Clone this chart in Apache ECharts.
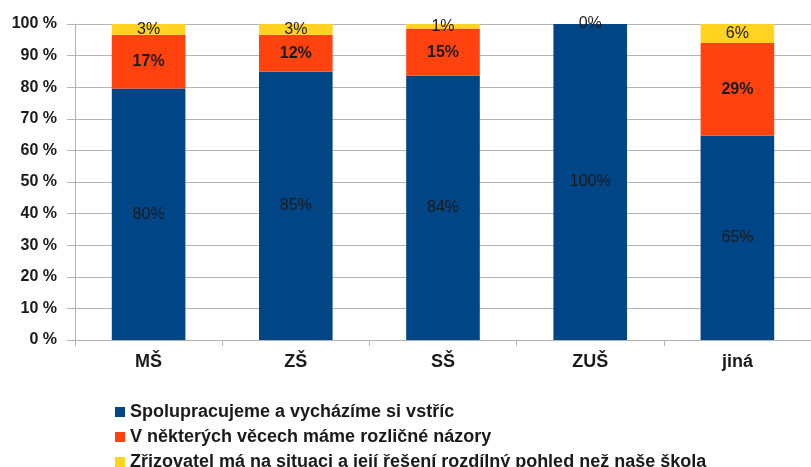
<!DOCTYPE html>
<html>
<head>
<meta charset="utf-8">
<script src="https://cdn.jsdelivr.net/npm/echarts@6/dist/echarts.min.js"></script>
<style>
  html, body { margin: 0; padding: 0; background: #fff; }
  #chart { width: 811px; height: 467px; }
</style>
</head>
<body>
<div id="chart"></div>
<script>
const categories = ["MŠ", "ZŠ", "SŠ", "ZUŠ", "jiná"];
const seriesNames = [
  "Spolupracujeme a vycházíme si vstříc",
  "V některých věcech máme rozličné názory",
  "Zřizovatel má na situaci a její řešení rozdílný pohled než naše škola"
];
// podíly v procentech
const cooperate = [79.6, 84.9, 83.6, 100, 64.6];
const differ = [17.0, 11.7, 15.0, 0, 29.4];
const founder = [3.4, 3.4, 1.4, 0, 6.0];
const colors = ["#004586", "#ff420e", "#ffd320"];

const font = "'Liberation Sans', Arial, sans-serif";

const chart = echarts.init(document.getElementById("chart"));

const makeSeries = (name, data, color, idx) => ({
  name: name,
  type: "bar",
  stack: "total",
  barWidth: "50%",
  data: data,
  itemStyle: { color: color },
  label: {
    show: true,
    position: "inside",
    formatter: (p) => {
      // u ZUŠ je jen jeden popisek 0 %
      if (idx === 1 && p.value === 0) return "";
      return Math.round(p.value) + "%";
    },
    color: "#1a1a1a",
    fontFamily: font,
    fontSize: 16,
    fontWeight: idx === 1 ? "bold" : "normal"
  }
});

const option = {
  animation: false,
  grid: { left: 75, right: -4, top: 24, bottom: 127 },
  legend: {
    orient: "vertical",
    left: 110,
    top: 398,
    height: 120,
    itemWidth: 10,
    itemHeight: 10,
    itemGap: 7,
    icon: "rect",
    textStyle: { fontFamily: font, fontSize: 18, lineHeight: 18, fontWeight: "bold", color: "#1a1a1a" },
    data: seriesNames
  },
  xAxis: {
    type: "category",
    data: categories,
    axisLine: { lineStyle: { color: "#b3b3b3" } },
    axisTick: { show: true, length: 6, lineStyle: { color: "#b3b3b3" } },
    axisLabel: { fontFamily: font, fontSize: 18, fontWeight: "bold", color: "#1a1a1a", margin: 13 }
  },
  yAxis: {
    type: "value",
    min: 0,
    max: 100,
    interval: 10,
    axisLine: { show: true, lineStyle: { color: "#b3b3b3" } },
    axisTick: { show: true, length: 8, lineStyle: { color: "#b3b3b3" } },
    splitLine: { lineStyle: { color: "#b3b3b3" } },
    axisLabel: {
      formatter: "{value} %",
      fontFamily: font,
      fontSize: 16,
      fontWeight: "bold",
      color: "#1a1a1a",
      margin: 18
    }
  },
  series: [
    makeSeries(seriesNames[0], cooperate, colors[0], 0),
    makeSeries(seriesNames[1], differ, colors[1], 1),
    makeSeries(seriesNames[2], founder, colors[2], 2)
  ]
};

chart.setOption(option);
</script>
</body>
</html>
